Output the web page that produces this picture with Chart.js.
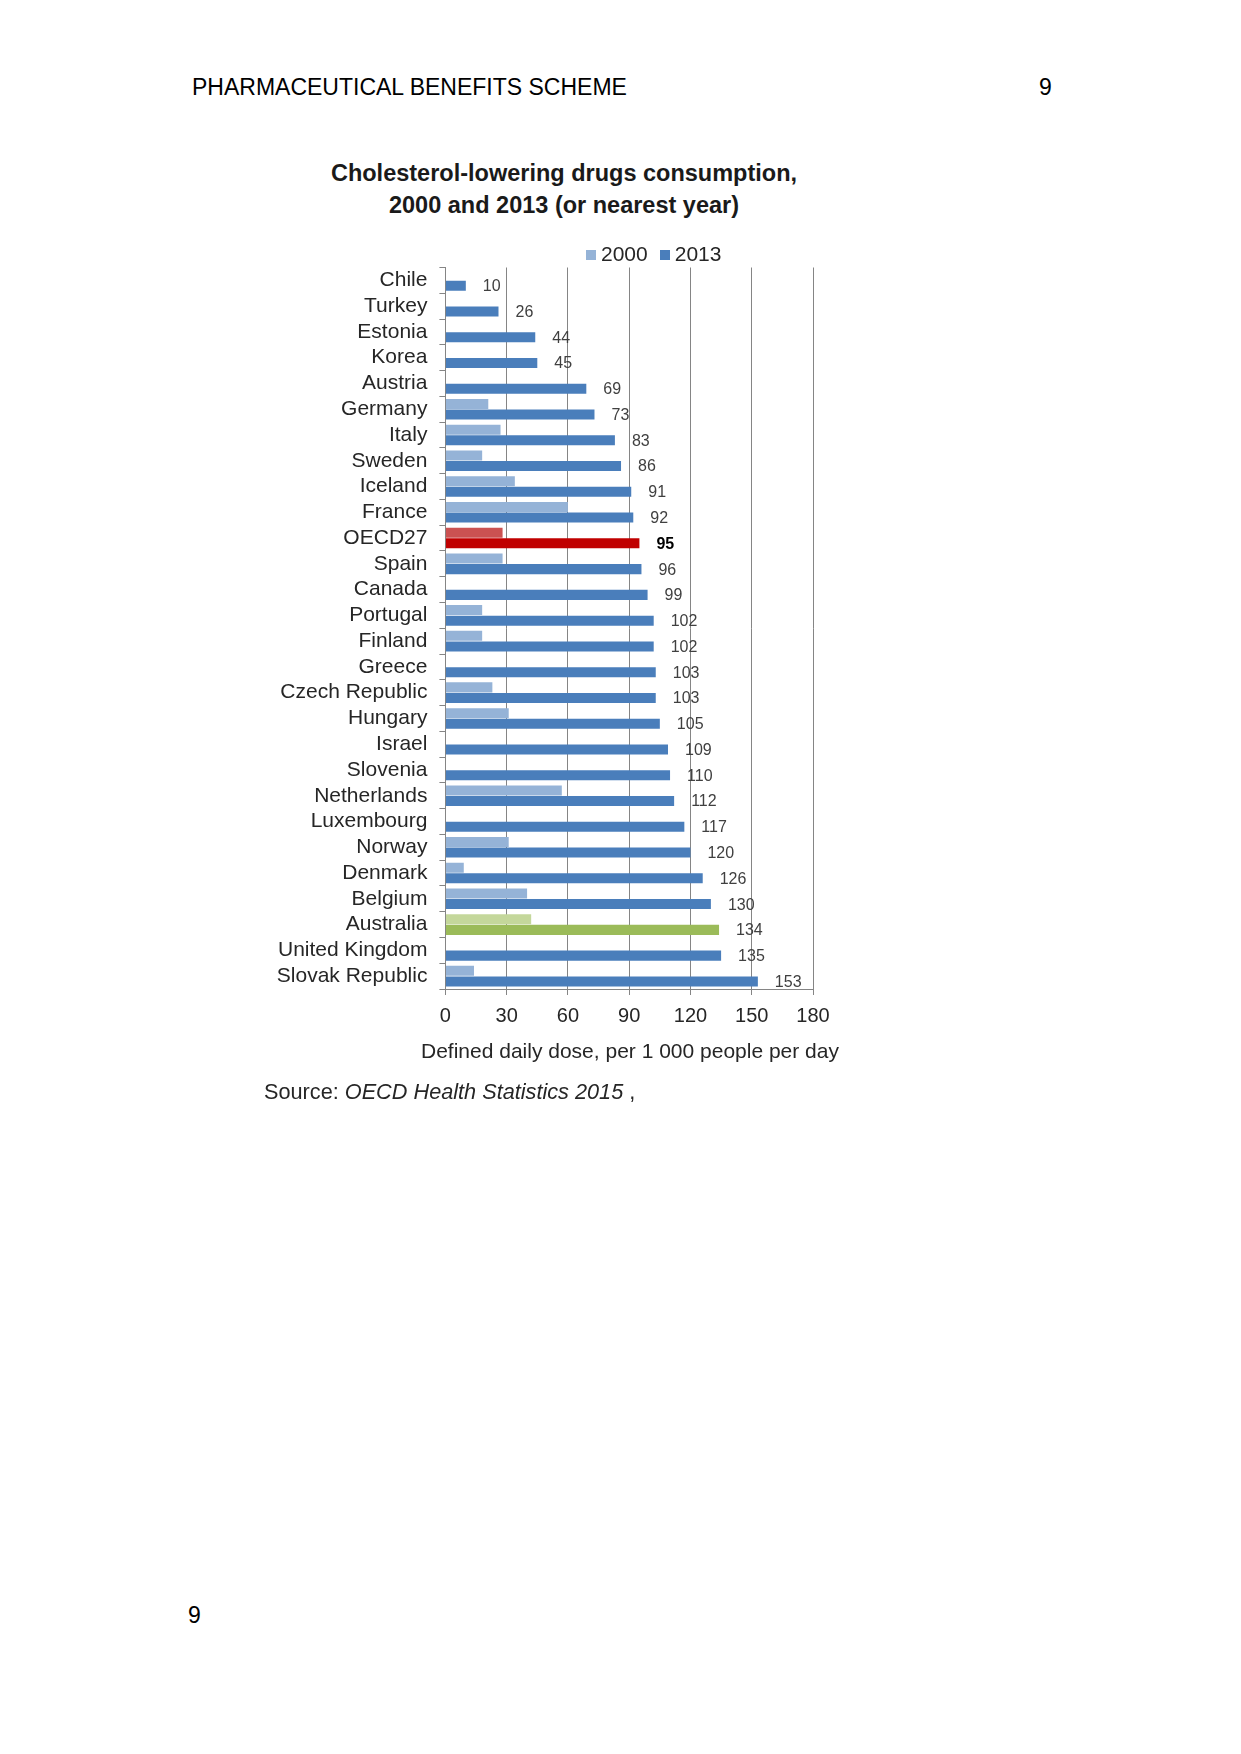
<meta charset="UTF-8">
<title>Cholesterol-lowering drugs consumption</title>
<script src="https://cdn.jsdelivr.net/npm/chart.js"></script>
<style>
  body { margin: 0; background: #fff; }
  #page { position: relative; width: 1241px; height: 1754px; font-family: "Liberation Sans", Arial, sans-serif; color: #000; }
  .txt { position: absolute; white-space: nowrap; line-height: 1; }
  #chartBox { position: absolute; left: 262px; top: 150px; width: 600px; height: 930px; }
  .sw { display: inline-block; width: 10px; height: 10px; margin-right: 5px; vertical-align: 1px; }
  #title { position: absolute; left: 264px; top: 157px; width: 600px; text-align: center; font-weight: bold; font-size: 23.5px; line-height: 32px; color: #1a1a1a; }
</style>
<script>
// data
var countries = ['Chile', 'Turkey', 'Estonia', 'Korea', 'Austria', 'Germany', 'Italy', 'Sweden',
    'Iceland', 'France', 'OECD27', 'Spain', 'Canada', 'Portugal', 'Finland', 'Greece',
    'Czech Republic', 'Hungary', 'Israel', 'Slovenia', 'Netherlands', 'Luxembourg', 'Norway',
    'Denmark', 'Belgium', 'Australia', 'United Kingdom', 'Slovak Republic'];
var values2000 = [null, null, null, null, null, 21, 27, 18,
    34, 60, 28, 28, null, 18, 18, null,
    23, 31, null, null, 57, null, 31,
    9, 40, 42, null, 14];
var values2013 = [10, 26, 44, 45, 69, 73, 83, 86,
    91, 92, 95, 96, 99, 102, 102, 103,
    103, 105, 109, 110, 112, 117, 120,
    126, 130, 134, 135, 153];
var seriesNames = ['2000', '2013'];
var xMin = 0, xMax = 180, xStep = 30;

var chart;
var FONT = '"Liberation Sans", Arial, sans-serif';
function colorFor(name, year){
    if(name == 'OECD27') return year == '2000' ? '#cb5252' : '#c00000';
    if(name == 'Australia') return year == '2000' ? '#c4d79b' : '#9bbb59';
    return year == '2000' ? '#95b3d7' : '#4a7ebb';
}

// value labels next to the 2013 bars
var valueLabels = {
    id: 'valueLabels',
    afterDatasetsDraw: function(c){
        var ctx = c.ctx;
        var meta = c.getDatasetMeta(1);
        ctx.save();
        ctx.textAlign = 'left';
        ctx.textBaseline = 'middle';
        meta.data.forEach(function(bar, i){
            var bold = countries[i] == 'OECD27';
            ctx.font = (bold ? 'bold ' : '') + '16px ' + FONT;
            ctx.fillStyle = bold ? '#000' : '#404040';
            ctx.fillText(values2013[i], bar.x + 17, bar.y + 1);
        });
        ctx.restore();
    }
};

function drawChart(){
    var ctx = document.getElementById('chart').getContext('2d');
    chart = new Chart(ctx, {
        type: 'bar',
        data: {
            labels: countries,
            datasets: [{
                label: seriesNames[0],
                data: values2000,
                backgroundColor: countries.map(function(n){ return colorFor(n, '2000'); }),
                categoryPercentage: 0.82,
                barPercentage: 0.95
            }, {
                label: seriesNames[1],
                data: values2013,
                backgroundColor: countries.map(function(n){ return colorFor(n, '2013'); }),
                categoryPercentage: 0.82,
                barPercentage: 0.95
            }]
        },
        options: {
            indexAxis: 'y',
            responsive: false,
            devicePixelRatio: 1,
            animation: false,
            layout: { padding: { left: 0, right: 49, top: 117.5, bottom: 0 } },
            scales: {
                x: {
                    min: xMin,
                    max: xMax,
                    ticks: {
                        stepSize: xStep,
                        padding: 9,
                        color: '#262626',
                        font: { size: 20, family: FONT }
                    },
                    grid: { color: '#858585', tickLength: 6 },
                    border: { color: '#858585' },
                    afterFit: function(s){ s.height = 91; }
                },
                y: {
                    ticks: {
                        autoSkip: false,
                        padding: 12,
                        color: '#262626',
                        font: { size: 21, family: FONT }
                    },
                    grid: { drawOnChartArea: false, color: '#858585', tickLength: 6 },
                    border: { color: '#858585' },
                    afterFit: function(s){ s.width = 183.4; }
                }
            },
            plugins: {
                legend: { display: false },
                tooltip: { enabled: false },
                title: { display: false }
            }
        },
        plugins: [valueLabels]
    });
}
</script>
<body>
<div id="page">
    <div class="txt" style="left:192px; top:76px; font-size:23px;">PHARMACEUTICAL BENEFITS SCHEME</div>
    <div class="txt" style="left:1039px; top:76px; font-size:23px;">9</div>

    <div id="title">Cholesterol-lowering drugs consumption,<br>2000 and 2013 (or nearest year)</div>

    <div id="chartBox"><canvas id="chart" width="600" height="930"></canvas></div>

    <div class="txt" style="left:586px; top:243px; font-size:21px; color:#262626;">
        <span class="sw" style="background:#95b3d7"></span>2000<span style="display:inline-block;width:12px"></span><span class="sw" style="background:#4a7ebb"></span>2013
    </div>

    <div class="txt" style="left:330px; top:1040px; width:600px; text-align:center; font-size:21px; color:#262626;">Defined daily dose, per 1 000 people per day</div>

    <div class="txt" style="left:264px; top:1081px; font-size:21.7px; color:#262626;">Source: <i>OECD Health Statistics 2015</i> ,</div>

    <div class="txt" style="left:188px; top:1604px; font-size:23px;">9</div>
</div>
<script>drawChart();</script>
</body>
